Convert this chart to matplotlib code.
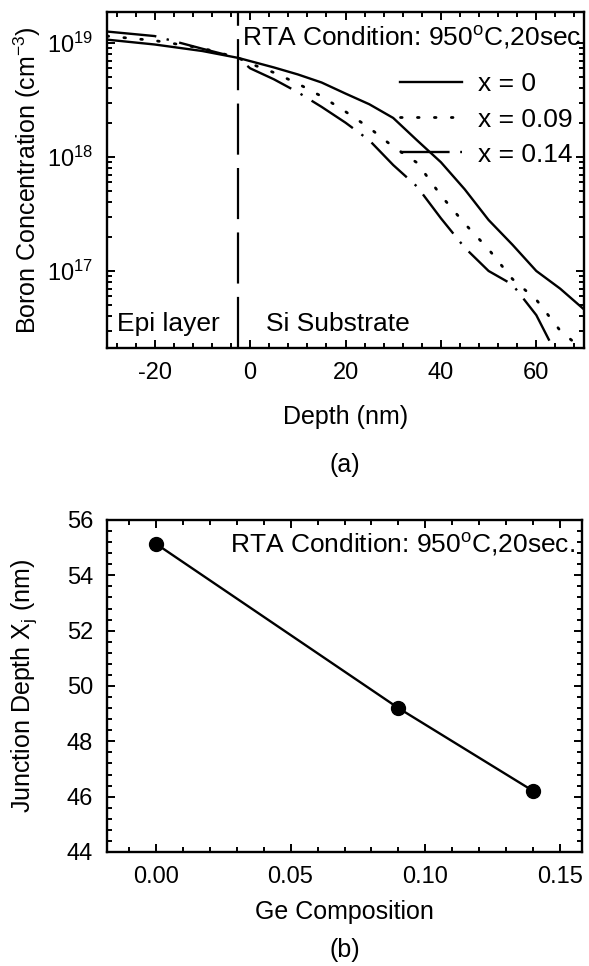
import matplotlib
matplotlib.use("Agg")
import matplotlib.pyplot as plt
from matplotlib.ticker import MultipleLocator, LogLocator, NullFormatter, FuncFormatter
import numpy as np

plt.rcParams['font.family'] = ['Liberation Sans', 'DejaVu Sans']
plt.rcParams['mathtext.fontset'] = 'custom'
plt.rcParams['mathtext.rm'] = 'Liberation Sans'
plt.rcParams['mathtext.it'] = 'Liberation Sans'
plt.rcParams['axes.unicode_minus'] = False

# ---- Panel (a) data ----
depth_x0 = [-30, -20, -10, -2.5, 5, 10, 15, 20, 25, 30, 35, 40, 45, 50, 55, 60, 65, 70]
conc_x0 = [1.07e19, 9.7e18, 8.5e18, 7.4e18, 6.1e18, 5.3e18, 4.5e18, 3.6e18, 2.9e18, 2.2e18,
           1.4e18, 9.0e17, 5.2e17, 2.8e17, 1.7e17, 1.0e17, 7.0e16, 4.6e16]
depth_x009 = [-30, -20, -10, -2.5, 0, 5, 10, 15, 20, 25, 30, 35, 40, 45, 50, 55, 60, 65, 70]
conc_x009 = [1.15e19, 1.05e19, 9.0e18, 7.4e18, 6.6e18, 5.5e18, 4.4e18, 3.4e18, 2.5e18, 1.8e18,
             1.23e18, 8.9e17, 4.6e17, 2.6e17, 1.55e17, 8.5e16, 5.6e16, 3.0e16, 2.0e16]
depth_x014 = [-30, -20, -10, -2.5, 0, 5, 10, 15, 20, 25, 30, 35, 40, 45, 50, 55, 60, 65]
conc_x014 = [1.26e19, 1.15e19, 8.9e18, 7.4e18, 6.0e18, 4.8e18, 3.7e18, 2.75e18, 2.0e18, 1.4e18,
             8.5e17, 5.5e17, 2.9e17, 1.6e17, 1.0e17, 7.6e16, 4.1e16, 1.6e16]
interface_depth = -2.5
legend_labels = ["x = 0", "x = 0.09", "x = 0.14"]

# ---- Panel (b) data ----
ge_comp = [0.0, 0.09, 0.14]
junction_depth = [55.15, 49.2, 46.2]

W, H = 589, 966
fig = plt.figure(figsize=(W / 100, H / 100), dpi=100)

def fx(px):
    return px / W

def fy(py):
    return 1 - py / H

TICK_FS = 17
LABEL_FS = 18
ANN_FS = 19

# ---------- Panel (a) ----------
ax1 = fig.add_axes([fx(107), fy(348), fx(584) - fx(107), fy(12) - fy(348)])
lw = 1.7
l0, = ax1.plot(depth_x0, conc_x0, color='black', lw=lw, ls='-')
l1, = ax1.plot(depth_x009, conc_x009, color='black', lw=2.0, ls=(0, (0.6, 5.5)),
               dash_capstyle='round')
l2, = ax1.plot(depth_x014, conc_x014, color='black', lw=lw, ls=(0, (21, 4.5, 1, 4.5)))
ax1.axvline(interface_depth, color='black', lw=1.6, ls=(0, (23, 6)))
ax1.set_yscale('log')
ax1.set_xlim(-30, 70)
ax1.set_ylim(2.11e16, 1.87e19)
ax1.xaxis.set_major_locator(MultipleLocator(20))
ax1.xaxis.set_minor_locator(MultipleLocator(4))
ax1.yaxis.set_major_locator(LogLocator(base=10, numticks=10))
ax1.yaxis.set_minor_locator(LogLocator(base=10, subs=np.arange(2, 10), numticks=20))
ax1.yaxis.set_minor_formatter(NullFormatter())
ax1.yaxis.set_major_formatter(FuncFormatter(lambda v, p: r'$\mathregular{10^{%d}}$' % round(np.log10(v))))
ax1.set_xlabel('Depth (nm)', fontsize=LABEL_FS, labelpad=15)
ax1.set_ylabel(r'Boron Concentration (cm$^{\mathregular{-3}}$)', fontsize=LABEL_FS, labelpad=3)
ax1.text(0.282, 0.925, r'RTA Condition: 950$^{\mathregular{o}}$C,20sec', transform=ax1.transAxes,
         fontsize=ANN_FS, ha='left', va='center')
ax1.text(0.02, 0.072, 'Epi layer', transform=ax1.transAxes, fontsize=ANN_FS, ha='left', va='center')
ax1.text(0.333, 0.072, 'Si Substrate', transform=ax1.transAxes, fontsize=ANN_FS, ha='left', va='center')
leg = ax1.legend([l0, l1, l2], legend_labels, loc='upper left', bbox_to_anchor=(0.615, 0.82),
                 frameon=False, fontsize=ANN_FS, handlelength=2.35, handletextpad=0.6,
                 labelspacing=0.42, borderaxespad=0.0, borderpad=0.0)

# ---------- Panel (b) ----------
ax2 = fig.add_axes([fx(107), fy(852), fx(582) - fx(107), fy(520) - fy(852)])
ax2.plot(ge_comp, junction_depth, color='black', lw=1.7, marker='o', markersize=10)
ax2.set_xlim(-0.018, 0.158)
ax2.set_ylim(44, 56)
ax2.xaxis.set_major_locator(MultipleLocator(0.05))
ax2.xaxis.set_minor_locator(MultipleLocator(0.01))
ax2.yaxis.set_major_locator(MultipleLocator(2))
ax2.yaxis.set_minor_locator(MultipleLocator(0.4))
ax2.xaxis.set_major_formatter(FuncFormatter(lambda v, p: '%.2f' % v))
ax2.set_xlabel('Ge Composition', fontsize=LABEL_FS, labelpad=9)
ax2.set_ylabel(r'Junction Depth X$_{\mathregular{j}}$ (nm)', fontsize=LABEL_FS, labelpad=20)
ax2.text(0.985, 0.925, r'RTA Condition: 950$^{\mathregular{o}}$C,20sec.', transform=ax2.transAxes,
         fontsize=ANN_FS, ha='right', va='center')

for ax in (ax1, ax2):
    for s in ax.spines.values():
        s.set_linewidth(1.7)
    ax.tick_params(which='both', direction='in', top=True, right=True, labelsize=TICK_FS, width=1.4)
    ax.tick_params(which='major', length=6, pad=10)
    ax.tick_params(which='minor', length=3.5)

fig.text(fx(345), fy(465), '(a)', fontsize=LABEL_FS, ha='center', va='center')
fig.text(fx(345), fy(950), '(b)', fontsize=LABEL_FS, ha='center', va='center')

fig.savefig('out.png', dpi=100)
